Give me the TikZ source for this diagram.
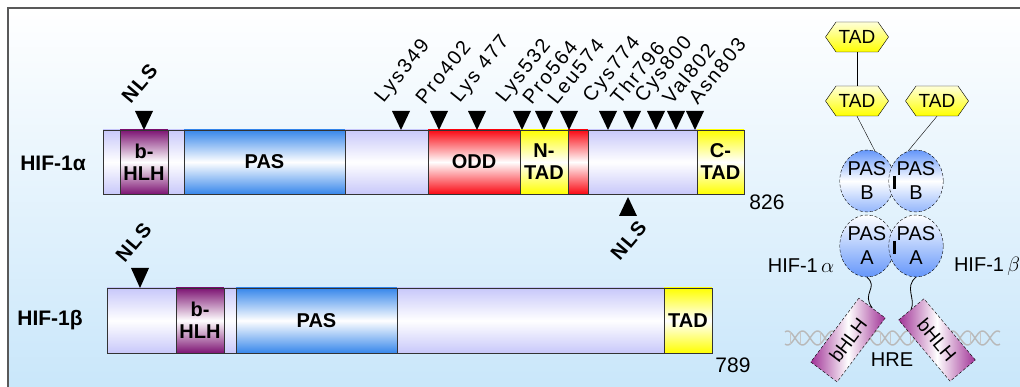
\documentclass[tikz,border=0pt]{standalone}
\usepackage{fontspec}
\setmainfont{Liberation Sans}
\usetikzlibrary{shapes.geometric,shapes.symbols}

\definecolor{lav}{RGB}{200,200,250}
\definecolor{pasblue}{RGB}{55,135,235}
\definecolor{hlhpurple}{RGB}{125,20,115}
\definecolor{oddred}{RGB}{250,10,20}
\definecolor{tadyellow}{RGB}{255,255,0}
\definecolor{bgblue}{RGB}{200,230,250}
\definecolor{ellblue}{RGB}{100,150,250}
\definecolor{boxpurple}{RGB}{160,50,150}

\tikzset{
  seg/.style={draw=black!80, line width=0.8pt, minimum height=64pt, inner sep=0pt,
    outer sep=0pt, anchor=west, align=center, font=\bfseries\fontsize{20}{22}\selectfont},
  segfill/.style={seg, top color=#1, bottom color=#1, middle color=white},
  sitelbl/.style={rotate=51, anchor=south west, inner sep=0pt,
    font=\addfontfeatures{LetterSpace=10}\fontsize{20}{20}\selectfont},
  nlslbl/.style={rotate=50, anchor=south west, inner sep=0pt,
    font=\bfseries\addfontfeatures{LetterSpace=8}\fontsize{20}{20}\selectfont},
  protname/.style={font=\bfseries\fontsize{21}{21}\selectfont},
  endnum/.style={font=\fontsize{21}{21}\selectfont},
  tadhex/.style={signal, signal to=west and east, signal pointer angle=110, draw, thin,
    minimum width=63pt, minimum height=30pt, inner sep=0pt,
    top color=yellow!15, bottom color=tadyellow, font=\fontsize{19}{19}\selectfont},
  pasell/.style={ellipse, draw, densely dashed, thin, minimum width=48pt, minimum height=62pt,
    inner sep=0pt, align=center, font=\fontsize{20}{24}\selectfont},
  hlhbox/.style={draw, densely dashed, thin, minimum width=80pt, minimum height=33pt,
    inner sep=0pt, left color=boxpurple, right color=boxpurple, middle color=white,
    font=\fontsize{19}{19}\selectfont},
  dna/.style={gray!55, line width=1.4pt},
  plain/.style={font=\fontsize{20}{20}\selectfont}
}

\begin{document}
\begin{tikzpicture}[x=1pt, y=-1pt]
  \useasboundingbox (0,0) rectangle (1020,387);

  % panel background and frame
  \shade[top color=white, bottom color=bgblue] (8,8) rectangle (1030,395);
  \draw[black!65, line width=2pt] (1030,8) -- (8,8) -- (8,395);

  % ---- HIF-1alpha domain bar ----
  \node[protname] (hifA) at (53,163) {HIF-1α};
  \node[segfill=lav, minimum width=17pt] (a1) at (103,162) {};
  \node[segfill=hlhpurple, minimum width=48pt] (a2) at (a1.east) {b-\\HLH};
  \node[segfill=lav, minimum width=16pt] (a3) at (a2.east) {};
  \node[segfill=pasblue, minimum width=161pt] (a4) at (a3.east) {PAS};
  \node[segfill=lav, minimum width=83pt] (a5) at (a4.east) {};
  \node[segfill=oddred, minimum width=92pt] (a6) at (a5.east) {ODD};
  \node[segfill=tadyellow, minimum width=48pt] (a7) at (a6.east) {N-\\TAD};
  \node[segfill=oddred, minimum width=20pt] (a8) at (a7.east) {};
  \node[segfill=lav, minimum width=109pt] (a9) at (a8.east) {};
  \node[segfill=tadyellow, minimum width=47pt] (a10) at (a9.east) {C-\\TAD};
  \node[endnum] (endA) at (767,202) {826};

  % modified residues above the bar (x of marker / label offset / residue)
  \foreach \x/\dx/\lbl in {401/-14/Lys349, 439/-14/Pro402, 477/-14/Lys 477, 522/-14/Lys532,
      544/-12/Pro564, 569/-12/Leu574, 608/-13/Cys774, 632/-12/Thr796, 656/-9/Cys800,
      676/-4/Val802, 695/3/Asn803} {
    \fill (\x-9,111) -- (\x+9,111) -- (\x,130) -- cycle;
    \node[sitelbl] (s\x) at (\x+\dx,106) {\lbl};
  }

  % nuclear localisation signals
  \fill (135,111) -- (153,111) -- (144,130) -- cycle;
  \node[nlslbl] (nlsA) at (131,105) {NLS};
  \fill (619,216) -- (637,216) -- (628,197) -- cycle;
  \node[nlslbl, anchor=north east] (nlsA2) at (637,219) {NLS};

  % ---- HIF-1beta domain bar ----
  \node[protname] (hifB) at (50,320) {HIF-1β};
  \node[segfill=lav, minimum width=69pt, minimum height=65pt] (b1) at (107,320.5) {};
  \node[segfill=hlhpurple, minimum width=48pt, minimum height=65pt] (b2) at (b1.east) {b-\\HLH};
  \node[segfill=lav, minimum width=12pt, minimum height=65pt] (b3) at (b2.east) {};
  \node[segfill=pasblue, minimum width=161pt, minimum height=65pt] (b4) at (b3.east) {PAS};
  \node[segfill=lav, minimum width=267pt, minimum height=65pt] (b5) at (b4.east) {};
  \node[segfill=tadyellow, minimum width=48pt, minimum height=65pt] (b6) at (b5.east) {TAD};
  \node[endnum] (endB) at (733,365) {789};

  \fill (131,268) -- (149,268) -- (140,288) -- cycle;
  \node[nlslbl] (nlsB) at (125,264) {NLS};

  % ---- dimer bound to the HRE ----
  % DNA strands
  \foreach \s in {0,180}
    \draw[dna] plot[domain=785:1000, samples=160, smooth] (\x, {338+7*sin(12*\x+\s)});
  \foreach \x in {790,800,...,995}
    \draw[gray!45, line width=1pt] (\x,{338+7*sin(12*\x)}) -- (\x,{338+7*sin(12*\x+180)});

  \node[tadhex] (tadTop) at (857,37) {TAD};
  \node[tadhex] (tadA) at (857,101) {TAD};
  \node[tadhex] (tadB) at (937,101) {TAD};

  \node[pasell, top color=ellblue, bottom color=ellblue!70, middle color=white] (pasBa) at (867,181) {PAS\\B};
  \node[pasell, top color=ellblue, bottom color=ellblue!70, middle color=white] (pasBb) at (916,181) {PAS\\B};
  \node[pasell, top color=white, bottom color=ellblue] (pasAa) at (867,246) {PAS\\A};
  \node[pasell, top color=white, bottom color=ellblue] (pasAb) at (916,246) {PAS\\A};

  \draw[thin] (tadTop.south) -- (tadA.north);
  \draw[thin] (tadA.south) -- (pasBa.75);
  \draw[thin] (tadB.south) -- (pasBb.105);
  \draw[line width=2.5pt] ([yshift=5pt]pasBa.east) -- ([yshift=-8pt]pasBa.east);
  \draw[line width=2.5pt] ([yshift=5pt]pasAa.east) -- ([yshift=-8pt]pasAa.east);

  \node[hlhbox, rotate=53] (hlhA) at (848,340) {bHLH};
  \node[hlhbox, rotate=-50] (hlhB) at (937,340) {bHLH};

  % flexible linkers down to the DNA-binding boxes
  \draw[line width=0.8pt] (pasAa.south) .. controls (879,288) and (861,293) .. (hlhA.east);
  \draw[line width=0.8pt] (pasAb.south) .. controls (904,287) and (916,299) .. (hlhB.west);

  \node[plain] (hre) at (892,360) {HRE};
  \node[plain] (lblA) at (801,266) {HIF-1\,$\alpha$};
  \node[plain] (lblB) at (987,266) {HIF-1\,$\beta$};
\end{tikzpicture}
\end{document}
